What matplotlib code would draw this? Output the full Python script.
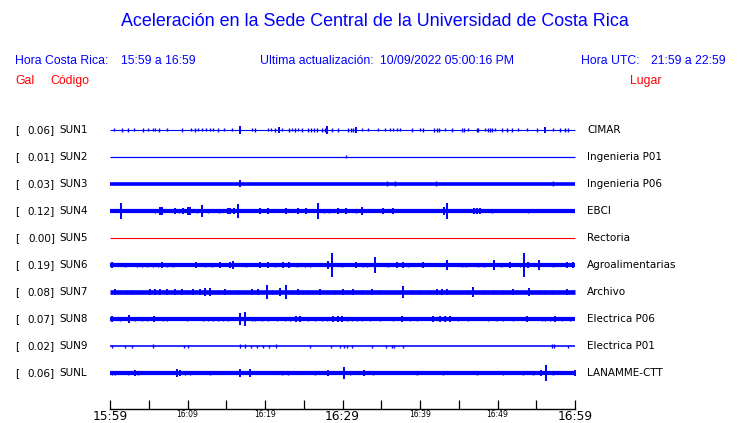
import matplotlib
matplotlib.use("Agg")
import matplotlib.pyplot as plt

titulo = "Aceleración en la Sede Central de la Universidad de Costa Rica"
hora_cr = "15:59 a 16:59"
hora_utc = "21:59 a 22:59"
actualizacion = "10/09/2022 05:00:16 PM"

codigos = ["SUN1", "SUN2", "SUN3", "SUN4", "SUN5", "SUN6", "SUN7", "SUN8", "SUN9", "SUNL"]
gal = [0.06, 0.01, 0.03, 0.12, 0.00, 0.19, 0.08, 0.07, 0.02, 0.06]
lugares = ["CIMAR", "Ingenieria P01", "Ingenieria P06", "EBCI", "Rectoria",
           "Agroalimentarias", "Archivo", "Electrica P06", "Electrica P01", "LANAMME-CTT"]
colores = ["blue", "blue", "blue", "blue", "red", "blue", "blue", "blue", "blue", "blue"]

# nivel de ruido de fondo de cada traza
ruido = [0.5, 0.6, 1.8, 2.1, 0.5, 2.1, 2.3, 2.1, 0.8, 2.1]

# picos: minuto desde 15:59 y amplitud relativa
t_sun1 = [0.5, 1.5, 2.3, 3.1, 4.3, 4.9, 5.5, 5.8, 6.3, 7.4, 9.3, 10.5, 11.0, 11.4, 11.9, 12.4,
          12.9, 13.3, 13.9, 14.7, 15.7, 16.8, 18.3, 18.7, 20.4, 20.8, 21.3, 21.8, 22.2, 23.1,
          23.5, 23.9, 24.3, 24.8, 25.5, 25.9, 26.3, 26.7, 27.4, 27.7, 28.0, 28.6, 29.4, 30.7,
          31.1, 31.4, 31.7, 32.5, 33.3, 34.6, 35.5, 36.1, 36.5, 37.0, 37.4, 39.0, 40.0, 40.4,
          41.8, 42.2, 42.5, 43.2, 44.1, 45.4, 45.7, 46.2, 47.4, 47.5, 48.4, 48.8, 49.0, 49.3,
          49.7, 50.6, 51.2, 51.9, 52.6, 53.8, 55.1, 56.1, 57.2, 58.1, 58.7, 59.1]
a_sun1 = [1.5, 2, 2, 1.5, 2, 1.5, 1.5, 1.5, 2, 1.5, 2, 1.5, 2, 1.5, 1.5, 1.5,
          1.5, 1.5, 2, 1.5, 1.5, 4, 1.5, 2, 1.5, 1.5, 2, 3, 1.5, 2,
          1.5, 2, 1.5, 2, 2, 2, 2, 2, 2, 2, 4, 2, 2, 2,
          2, 2, 3, 1.5, 1.5, 1.5, 1.5, 1.5, 1.5, 1.5, 1.5, 2, 1.5, 2,
          2, 2, 2, 1.5, 2, 2, 2, 1.5, 2, 2, 1.5, 2, 2, 2,
          1.5, 2, 2, 2, 1.5, 1.5, 2, 3, 1.5, 2, 2, 2]

t_sun2 = [30.5]
a_sun2 = [1.5]

t_sun3 = [16.8, 35.8, 36.8, 42.1, 57.2]
a_sun3 = [3.5, 2.5, 2.5, 2.5, 2.5]

t_sun4 = [1.4, 5.8, 6.5, 6.7, 8.4, 8.9, 9.4, 10.1, 10.3, 11.2, 11.9, 12.6, 14.1, 15.2, 15.5,
          16.0, 16.5, 19.4, 20.4, 22.7, 24.3, 25.3, 26.8, 27.6, 28.3, 29.4, 30.5, 31.7, 32.5,
          35.2, 36.5, 43.1, 43.5, 47.0, 47.4, 47.7, 49.3, 53.9]
a_sun4 = [8, 2, 4, 4, 3, 2, 3, 4, 4, 2, 6, 2, 2, 3, 3,
          3, 7, 3, 3, 3, 3, 3, 8, 2, 2, 3, 3, 1.5, 4,
          3, 3, 4, 8, 3, 3, 3, 1.5, 2]

t_sun5 = []
a_sun5 = []

t_sun6 = [0.3, 1.9, 3.5, 4.1, 4.8, 5.5, 6.2, 6.7, 7.4, 8.1, 11.1, 12.3, 13.2, 14.2, 15.5,
          15.9, 17.5, 19.4, 20.4, 21.3, 22.3, 23.1, 24.1, 25.2, 25.8, 28.1, 28.6, 29.9, 31.7,
          32.6, 33.2, 34.2, 35.9, 37.0, 37.8, 38.5, 40.4, 43.5, 45.4, 45.9, 47.5, 48.3, 49.5,
          50.5, 51.6, 52.9, 53.4, 53.9, 55.4, 57.2, 59.0, 59.7]
a_sun6 = [3, 1.5, 2, 2, 2, 2, 2, 3, 2, 2, 3, 2, 2, 3, 3,
          4, 2, 3, 3, 2, 3, 3, 2, 2, 2, 4, 12, 2, 3,
          2, 2, 8, 2, 3, 3, 2, 3, 5, 2, 2, 2, 2, 5,
          2, 3, 2, 12, 3, 5, 2, 3, 3]

t_sun7 = [0.6, 2.2, 2.8, 5.2, 5.8, 6.5, 7.4, 8.4, 9.3, 9.9, 10.7, 11.6, 12.3, 12.9, 13.9,
          14.8, 15.5, 16.5, 18.3, 19.1, 20.3, 20.9, 21.9, 22.7, 23.5, 24.3, 24.9, 25.5, 27.1,
          29.0, 30.1, 30.6, 31.4, 32.5, 33.8, 34.8, 37.8, 39.0, 40.0, 41.3, 42.2, 42.8, 43.5,
          46.1, 46.8, 48.1, 49.4, 50.7, 52.0, 52.5, 54.1, 55.5, 56.1, 57.0, 59.0, 59.7]
a_sun7 = [3, 2, 2, 3, 3, 3, 3, 3, 3, 2, 3, 3, 4, 4, 2,
          3, 2, 2, 3, 3, 7, 2, 4, 7, 2, 3, 2, 2, 3,
          2, 3, 2, 3, 2, 3, 2, 6, 2, 2, 2, 3, 3, 3,
          2, 5, 2, 2, 2, 3, 2, 4, 2, 2, 2, 3, 2]

t_sun8 = [0.3, 1.3, 2.5, 3.2, 4.1, 4.8, 5.7, 6.8, 7.4, 9.9, 12.0, 12.6, 13.3, 13.9, 14.6,
          15.2, 16.8, 17.4, 18.3, 18.7, 19.6, 20.4, 21.5, 22.6, 23.2, 24.0, 24.5, 25.5, 26.5,
          27.4, 28.0, 28.8, 29.4, 29.9, 30.6, 31.2, 31.9, 32.5, 33.5, 34.8, 36.5, 37.7, 38.7,
          39.6, 41.7, 42.6, 43.2, 43.9, 44.9, 46.2, 48.8, 49.9, 50.7, 52.0, 53.8, 55.7, 56.1,
          56.8, 57.4, 58.3, 59.4]
a_sun8 = [3, 2, 4, 2, 2, 2, 3, 2, 2, 2, 2, 2, 2, 2, 2,
          2, 6, 7, 2, 2, 2, 2, 2, 2, 2, 3, 3, 2, 2,
          2, 2, 3, 3, 3, 2, 2, 2, 2, 2, 2, 2, 3, 2,
          2, 3, 3, 3, 3, 2, 2, 2, 2, 2, 2, 3, 2, 2,
          2, 3, 2, 2]

t_sun9 = [0.3, 1.9, 2.8, 5.5, 9.5, 10.1, 16.8, 17.4, 18.2, 19.0, 19.7, 20.5, 21.4, 25.8,
          28.5, 29.7, 30.2, 30.6, 31.2, 33.8, 35.6, 36.4, 36.6, 37.8, 57.0, 57.3, 59.1]
a_sun9 = [1.5, 1.5, 1.5, 2, 1.5, 1.5, 2, 2, 1.5, 1.5, 1.5, 1.5, 2, 1.5,
          1.5, 1.5, 1.5, 1.5, 1.5, 1.5, 1.5, 1.5, 1.5, 1.5, 2, 2, 1.5]

t_sunl = [0.3, 0.6, 2.3, 3.2, 3.6, 8.6, 9.0, 9.7, 10.3, 12.9, 16.8, 18.1, 22.2, 23.0, 26.5,
          28.1, 30.2, 31.0, 32.8, 33.9, 39.6, 43.0, 47.4, 50.7, 53.3, 54.6, 55.6, 56.3, 57.2, 60.0]
a_sunl = [2, 2, 2, 3, 2, 4, 3, 2, 2, 2, 4, 4, 2, 2, 2,
          3, 6, 2, 3, 2, 2, 2, 2, 2, 2, 2, 3, 8, 2, 3]

tiempos = [t_sun1, t_sun2, t_sun3, t_sun4, t_sun5, t_sun6, t_sun7, t_sun8, t_sun9, t_sunl]
amplitudes = [a_sun1, a_sun2, a_sun3, a_sun4, a_sun5, a_sun6, a_sun7, a_sun8, a_sun9, a_sunl]

ticks = list(range(0, 61, 5))
etiquetas = ["15:59", "16:09", "16:19", "16:29", "16:39", "16:49", "16:59"]

azul = "#0000ff"
rojo = "#ff0000"

W, H = 740, 423
fig = plt.figure(figsize=(W / 100, H / 100), dpi=100)

# capa de texto en coordenadas de pixel
fondo = fig.add_axes([0, 0, 1, 1])
fondo.set_xlim(0, W)
fondo.set_ylim(H, 0)
fondo.axis("off")

sans = "Liberation Sans"
fondo.text(375, 21, titulo, color=azul, fontsize=12.9, family=sans, ha="center", va="center")
fondo.text(15, 61, "Hora Costa Rica:", color=azul, fontsize=8.8, family=sans, va="center")
fondo.text(121, 61, hora_cr, color=azul, fontsize=8.8, family=sans, va="center")
fondo.text(260, 61, "Ultima actualización:", color=azul, fontsize=8.8, family=sans, va="center")
fondo.text(380, 61, actualizacion, color=azul, fontsize=8.8, family=sans, va="center")
fondo.text(581, 61, "Hora UTC:", color=azul, fontsize=8.8, family=sans, va="center")
fondo.text(651, 61, hora_utc, color=azul, fontsize=8.8, family=sans, va="center")
fondo.text(15, 81, "Gal", color=rojo, fontsize=8.8, family=sans, va="center")
fondo.text(50, 81, "Código", color=rojo, fontsize=8.8, family=sans, va="center")
fondo.text(630, 81, "Lugar", color=rojo, fontsize=8.8, family=sans, va="center")

# ejes de las trazas
x0, x1, y_top, y_bot = 110, 575, 115, 409
ax = fig.add_axes([x0 / W, 1 - y_bot / H, (x1 - x0) / W, (y_bot - y_top) / H])
ax.set_xlim(0, 60)
ax.set_ylim(y_bot, y_top)

for i in range(len(codigos)):
    y = 130 + 27 * i
    c = azul if colores[i] == "blue" else rojo
    ax.hlines(y, 0, 60, color=c, lw=max(2 * ruido[i] * 0.72, 0.8), clip_on=False)
    for t, a in zip(tiempos[i], amplitudes[i]):
        ax.vlines(t, y - a, y + a, color=c, lw=1.0 if a < 3 else 1.4, clip_on=False)

    fondo.text(15, y, "[", fontsize=7.5, va="center")
    fondo.text(55, y, "%.2f]" % gal[i], fontsize=7.5, va="center", ha="right")
    fondo.text(59, y, codigos[i], fontsize=7.5, va="center")
    fondo.text(587, y, lugares[i], fontsize=7.5, va="center")

for s in ["left", "right", "top"]:
    ax.spines[s].set_visible(False)
ax.spines["bottom"].set_linewidth(1)
ax.set_yticks([])
ax.set_xticks(ticks[::2])
ax.set_xticks(ticks[1::2], minor=True)
ax.tick_params(axis="x", which="both", direction="in", length=6.2, width=0.9, pad=1)
ax.set_xticklabels(etiquetas)
for k, lab in enumerate(ax.get_xticklabels()):
    if k in (0, 3, 6):
        lab.set_fontsize(8.8)
    else:
        lab.set_fontsize(5.5)

fig.savefig("out.png", dpi=100)
plt.close()
